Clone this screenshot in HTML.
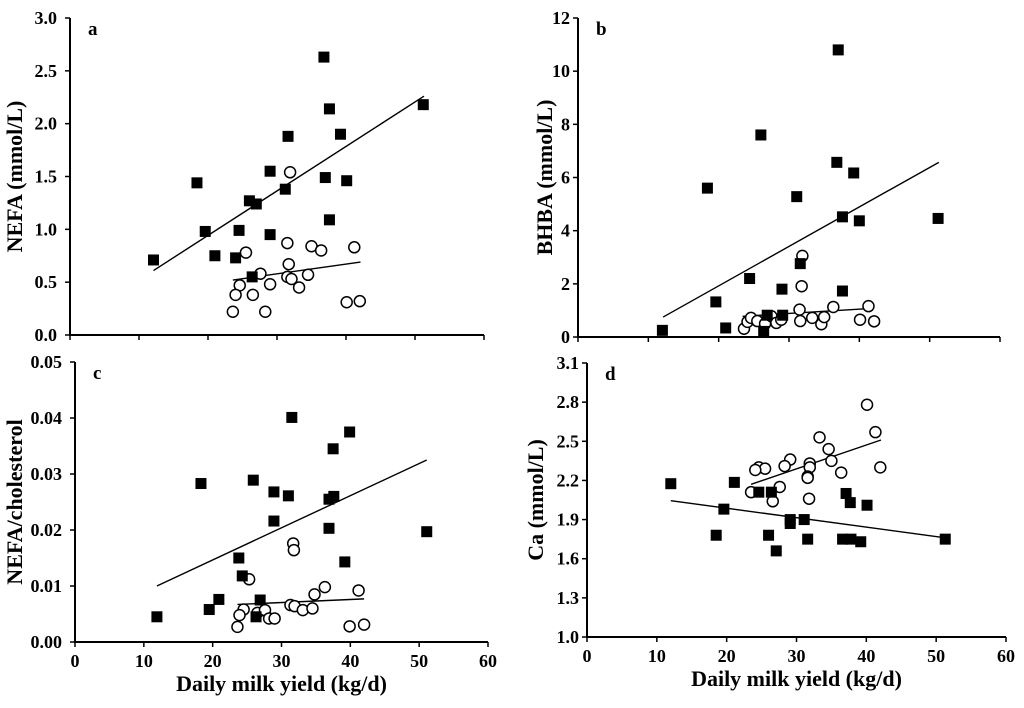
<!DOCTYPE html>
<html><head><meta charset="utf-8"><style>
body{margin:0;background:#fff}
svg{display:block;font-family:"Liberation Serif",serif;font-weight:bold}
</style></head><body>
<svg id="chart" width="1024" height="708" viewBox="0 0 1024 708"></svg>
<script>
// ---- data ----
const aFilledX=[12.1,18.4,19.6,21.0,24.0,24.5,26.0,27.0,26.4,29.0,29.0,31.2,31.6,36.8,37.0,37.6,37.6,39.2,40.1,51.2];
const aFilledY=[0.71,1.44,0.98,0.75,0.73,0.99,1.27,1.24,0.55,1.55,0.95,1.38,1.88,2.63,1.49,2.14,1.09,1.90,1.46,2.18];
const aOpenX=[31.9,25.5,31.5,35.0,36.4,41.2,31.7,27.6,31.5,32.1,34.5,24.6,29.0,33.2,24.0,26.5,23.6,28.3,40.1,42.0];
const aOpenY=[1.54,0.78,0.87,0.84,0.80,0.83,0.67,0.58,0.55,0.53,0.57,0.47,0.48,0.45,0.38,0.38,0.22,0.22,0.31,0.32];
const aFilledLine=[[12.1,0.61],[51.3,2.26]];
const aOpenLine=[[23.6,0.52],[42.1,0.69]];
const aTicks=["0.0","0.5","1.0","1.5","2.0","2.5","3.0"];

const bFilledX=[12.0,18.4,19.6,21.0,24.4,26.0,26.4,26.9,29.0,29.1,31.1,31.6,37.0,36.8,37.6,37.6,39.2,40.0,51.2];
const bFilledY=[0.25,5.6,1.32,0.34,2.2,7.6,0.21,0.82,1.8,0.82,5.28,2.76,10.8,6.57,4.52,1.73,6.17,4.37,4.46];
const bOpenX=[31.9,31.8,31.5,36.3,41.3,23.6,24.1,24.6,25.5,26.6,27.5,28.2,28.9,31.6,33.3,34.6,35.0,40.1,42.1];
const bOpenY=[3.05,1.91,1.03,1.13,1.16,0.31,0.57,0.72,0.6,0.5,0.78,0.53,0.65,0.6,0.72,0.48,0.75,0.65,0.59];
const bFilledLine=[[12.1,0.75],[51.3,6.57]];
const bOpenLine=[[23.4,0.78],[41.4,1.07]];
const bTicks=["0","2","4","6","8","10","12"];

const cFilledX=[11.9,18.3,19.5,20.9,23.8,24.3,25.9,26.3,26.9,28.9,28.9,31.0,31.5,36.9,36.9,37.5,37.6,39.2,39.9,51.1];
const cFilledY=[.0045,.0283,.0058,.0076,.0150,.0118,.0289,.0045,.0075,.0268,.0216,.0261,.0401,.0255,.0203,.0345,.0260,.0143,.0375,.0197];
const cOpenX=[31.7,31.8,25.3,36.3,34.8,41.2,31.3,31.9,33.1,34.5,24.5,23.9,26.5,27.6,28.2,29.0,23.6,39.9,42.0];
const cOpenY=[.0176,.0164,.0112,.0098,.0085,.0092,.0066,.0064,.0057,.0060,.0058,.0048,.0052,.0057,.0042,.0042,.0027,.0028,.0031];
const cFilledLine=[[11.9,.0100],[51.1,.0325]];
const cOpenLine=[[23.6,.0067],[42.0,.0077]];
const cTicks=["0.00","0.01","0.02","0.03","0.04","0.05"];

const dFilledX=[12.0,18.5,19.6,21.1,24.6,26.0,26.4,27.1,29.1,29.1,31.1,31.6,36.6,37.1,37.7,37.8,39.2,40.1,51.3];
const dFilledY=[2.175,1.78,1.98,2.185,2.11,1.78,2.11,1.66,1.90,1.87,1.90,1.75,1.75,2.10,2.03,1.75,1.73,2.01,1.75];
const dOpenX=[40.1,41.3,33.3,34.6,29.1,35.0,42.0,24.6,25.5,24.1,28.3,31.9,31.9,31.6,31.6,36.4,27.6,23.5,26.6,31.8];
const dOpenY=[2.78,2.57,2.53,2.44,2.36,2.35,2.30,2.30,2.29,2.28,2.31,2.33,2.30,2.23,2.22,2.26,2.15,2.11,2.04,2.06];
const dFilledLine=[[12.0,2.045],[51.3,1.76]];
const dOpenLine=[[23.5,2.17],[42.1,2.51]];
const dTicks=["1.0","1.3","1.6","1.9","2.2","2.5","2.8","3.1"];

const xTicks=["0","10","20","30","40","50","60"];

const NS="http://www.w3.org/2000/svg";
const svg=document.getElementById('chart');
function mk(tag,attrs,parent){const e=document.createElementNS(NS,tag);for(const k in attrs)e.setAttribute(k,attrs[k]);(parent||svg).appendChild(e);return e;}

function panel(p){
  const g=mk('g',{});
  
  
  const sx=v=>p.x0+(v-0)/60*(p.x1-p.x0);
  const sy=v=>p.yb-(v-p.ymin)/(p.ymax-p.ymin)*(p.yb-p.yt);
  const ax=mk('path',{d:`M${p.x0},${p.yt}V${p.yb}H${p.x1}`,stroke:'#000','stroke-width':2,fill:'none'},g);
  
  
  p.ticks.forEach((t,i)=>{
    const v=p.ymin+i*(p.ymax-p.ymin)/(p.ticks.length-1);
    const y=sy(v);
    mk('line',{x1:p.x0-5,x2:p.x0,y1:y,y2:y,stroke:'#000','stroke-width':1.5},g);
    const tx=mk('text',{x:p.x0-p.lgap,y:y+6,'text-anchor':'end','font-size':18},g);tx.textContent=t;
    
    
  });
  xTicks.forEach(t=>{
    const x=sx(+t);
    mk('line',{x1:x,x2:x,y1:p.yb,y2:p.yb+5,stroke:'#000','stroke-width':1.5},g);
    if(p.showX){const tx=mk('text',{x:x,y:p.yb+25,'text-anchor':'middle','font-size':18},g);tx.textContent=t;
      
      }
  });
  const lt=mk('text',{x:p.x0+18,y:p.yt+17,'font-size':19},g);lt.textContent=p.id;
  
  
  const cy=(p.yt+p.yb)/2;
  const yt=mk('text',{x:p.ytx,y:cy,'text-anchor':'middle','font-size':22,transform:`rotate(-90 ${p.ytx} ${cy})`},g);yt.textContent=p.ytitle;
  
  
  if(p.showX){const xt=mk('text',{x:(p.x0+p.x1)/2,y:p.yb+49,'text-anchor':'middle','font-size':22},g);xt.textContent='Daily milk yield (kg/d)';
    
    }
  [p.fl,p.ol].forEach(L=>{
    const l=mk('line',{x1:sx(L[0][0]),y1:sy(L[0][1]),x2:sx(L[1][0]),y2:sy(L[1][1]),stroke:'#000','stroke-width':1.4},g);
    
    
  });
  p.ox.forEach((xv,i)=>{
    const c=mk('circle',{cx:sx(xv),cy:sy(p.oy[i]),r:5.5,fill:'#fff',stroke:'#000','stroke-width':1.5},g);
    
    
  });
  p.fx.forEach((xv,i)=>{
    const r=mk('rect',{x:sx(xv)-5.5,y:sy(p.fy[i])-5.5,width:11,height:11,fill:'#000'},g);
    
    
  });
}
panel({id:'a',x0:70,x1:484,yt:18,yb:335,ymin:0,ymax:3,ticks:aTicks,lgap:13,showX:false,ytx:22,ytitle:'NEFA (mmol/L)',fx:aFilledX,fy:aFilledY,ox:aOpenX,oy:aOpenY,fl:aFilledLine,ol:aOpenLine});
panel({id:'b',x0:578,x1:1000,yt:18,yb:337,ymin:0,ymax:12,ticks:bTicks,lgap:8,showX:false,ytx:552,ytitle:'BHBA (mmol/L)',fx:bFilledX,fy:bFilledY,ox:bOpenX,oy:bOpenY,fl:bFilledLine,ol:bOpenLine});
panel({id:'c',x0:75,x1:488,yt:362,yb:642,ymin:0,ymax:0.05,ticks:cTicks,lgap:13,showX:true,ytx:22,ytitle:'NEFA/cholesterol',fx:cFilledX,fy:cFilledY,ox:cOpenX,oy:cOpenY,fl:cFilledLine,ol:cOpenLine});
panel({id:'d',x0:587,x1:1006,yt:363,yb:637,ymin:1.0,ymax:3.1,ticks:dTicks,lgap:8,showX:true,ytx:543,ytitle:'Ca (mmol/L)',fx:dFilledX,fy:dFilledY,ox:dOpenX,oy:dOpenY,fl:dFilledLine,ol:dOpenLine});
</script>
</body></html>
